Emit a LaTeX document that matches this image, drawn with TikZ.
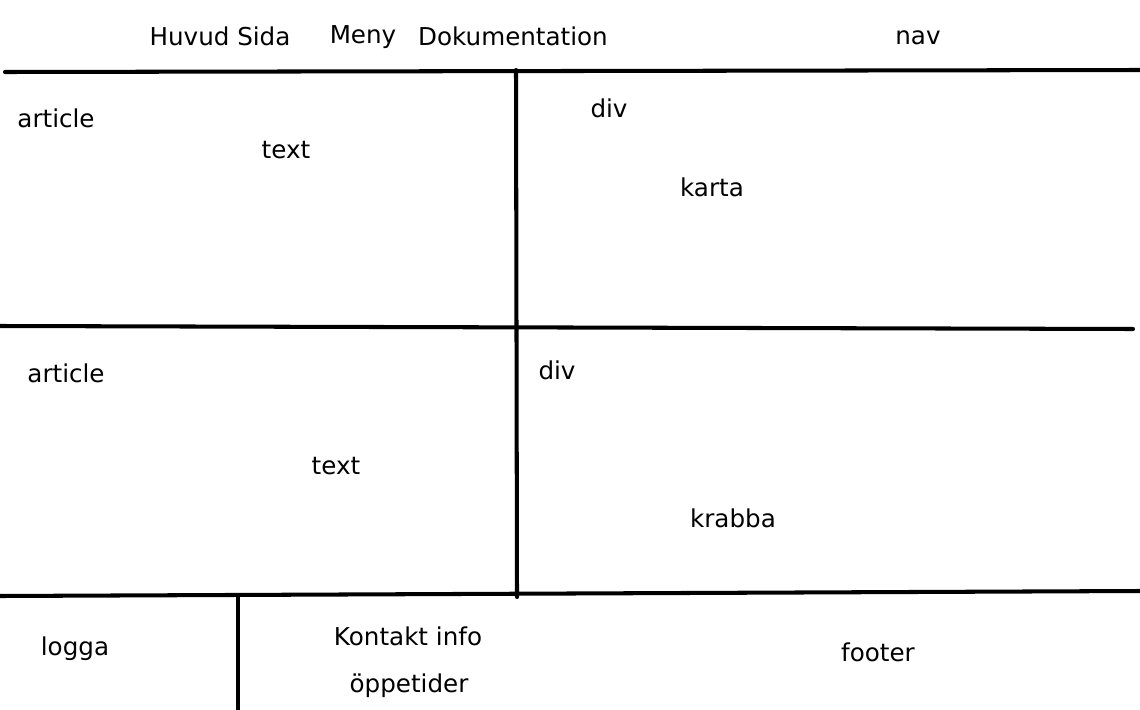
\documentclass[tikz,border=0pt]{standalone}
\usepackage{fontspec}
\setmainfont{DejaVu Sans}
\usepackage{tikz}
\usetikzlibrary{positioning, calc}

\begin{document}
\begin{tikzpicture}[
    x=0.02cm, y=-0.02cm,
    wall/.style={line width=2.3pt, black, line cap=round},
    lbl/.style={font=\fontsize{14}{16}\selectfont, inner sep=1pt}
]

% Canvas
\useasboundingbox (0,0) rectangle (1140,710);

% Frame lines
\draw[wall] (5,72) -- (1140,70);
\draw[wall] (0,326) -- (1133,329);
\draw[wall] (0,596) -- (1140,591);
\draw[wall] (516,70) -- (517,597);
\draw[wall] (238,597) -- (238,710);

% Nav
\node[lbl] (huvud) at (220,36) {Huvud Sida};
\node[lbl] (meny) at (363,37) {Meny};
\node[lbl] (doku) at (513,36) {Dokumentation};
\node[lbl] (nav) at (918,38) {nav};

% First row
\node[lbl] (art1) at (56,118) {article};
\node[lbl] (text1) at (286,150) {text};
\node[lbl] (div1) at (609,108) {div};
\node[lbl] (karta) at (712,187) {karta};

% Second row
\node[lbl] (art2) at (66,373) {article};
\node[lbl] (text2) at (336,466) {text};
\node[lbl] (div2) at (557,370) {div};
\node[lbl] (krabba) at (733,518) {krabba};

% Footer
\node[lbl] (logga) at (75,649) {logga};
\node[lbl] (kontakt) at (408,636) {Kontakt info};
\node[lbl] (oppet) at (409,686) {öppetider};
\node[lbl] (footer) at (878,652) {footer};

\end{tikzpicture}
\end{document}
